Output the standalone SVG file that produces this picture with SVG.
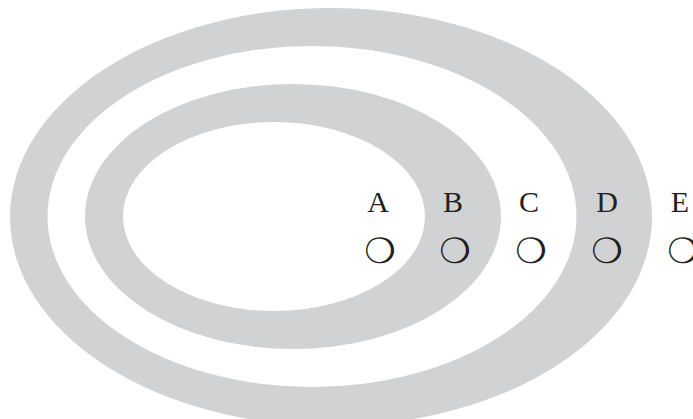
<svg xmlns="http://www.w3.org/2000/svg" width="693" height="419" viewBox="0 0 693 419">
<style>
.g{fill:#d1d2d4}
.w{fill:#ffffff}
.t{font-family:"Liberation Serif","Times New Roman",serif;font-size:30px;fill:#231f20;text-anchor:middle}
.c{font-family:"DejaVu Sans",sans-serif;font-size:35px;fill:#231f20;text-anchor:middle}
</style>
<rect width="693" height="419" fill="#ffffff"/>
<g id="rings">
<ellipse class="g" cx="331" cy="217" rx="321" ry="209"/>
<ellipse class="w" cx="312" cy="216.5" rx="264.5" ry="170.5"/>
<ellipse class="g" cx="293" cy="216.5" rx="208" ry="132.5"/>
<ellipse class="w" cx="274" cy="216.5" rx="151" ry="94.5"/>
</g>
<g id="A"><text class="t" x="378" y="212">A</text><text class="c" x="380" y="263">❍</text></g>
<g id="B"><text class="t" x="453" y="212">B</text><text class="c" x="455" y="263">❍</text></g>
<g id="C"><text class="t" x="529" y="212">C</text><text class="c" x="531" y="263">❍</text></g>
<g id="D"><text class="t" x="607" y="212">D</text><text class="c" x="607" y="263">❍</text></g>
<g id="E"><text class="t" x="680" y="212">E</text><text class="c" x="683" y="263">❍</text></g>
</svg>
